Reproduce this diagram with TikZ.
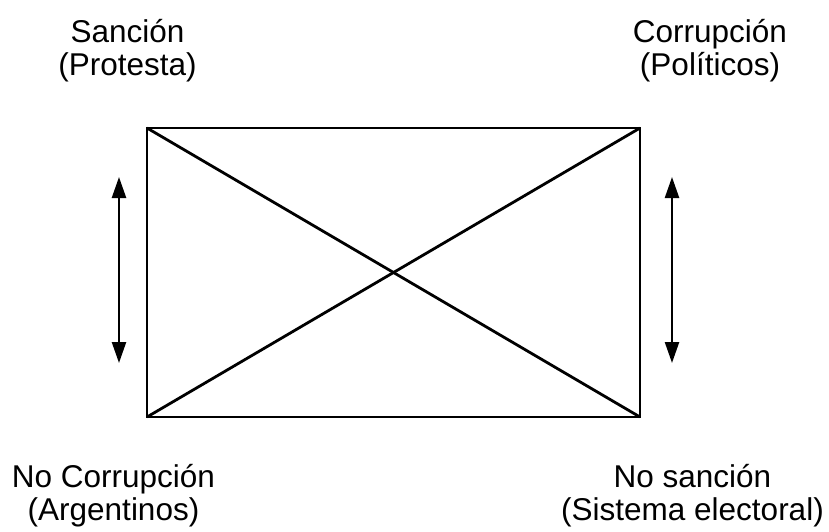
\documentclass[tikz,border=0pt]{standalone}
\usepackage{fontspec}
\setmainfont{Liberation Sans}
\usetikzlibrary{arrows.meta}
\begin{document}
\begin{tikzpicture}[x=1pt,y=-1pt,
  lbl/.style={inner sep=0pt, align=center, anchor=base, font=\fontsize{31.5}{33}\selectfont},
  frame/.style={line width=2.8pt},
  dbl/.style={line width=2.4pt, {Triangle[length=21pt,width=14pt]}-{Triangle[length=21pt,width=14pt]}}]
\useasboundingbox (0,0) rectangle (829,531);
\coordinate (tl) at (147,128);
\coordinate (tr) at (640,128);
\coordinate (br) at (640,417);
\coordinate (bl) at (147,417);
\draw[frame] (tl) -- (tr) -- (br) -- (bl) -- cycle;
\draw[frame] (tl) -- (br);
\draw[frame] (tr) -- (bl);
\coordinate (la) at (119,177);
\coordinate (lb) at (119,363);
\coordinate (ra) at (672,177);
\coordinate (rb) at (672,363);
\draw[dbl] (la) -- (lb);
\draw[dbl] (ra) -- (rb);
\node[lbl] (sanc) at (127.5,75) {Sanción\\(Protesta)};
\node[lbl] (corr) at (710,75) {Corrupción\\(Políticos)};
\node[lbl] (nocorr) at (113.5,520) {No Corrupción\\(Argentinos)};
\node[lbl] (nosanc) at (692.5,520) {No sanción\\(Sistema electoral)};
\end{tikzpicture}
\end{document}
